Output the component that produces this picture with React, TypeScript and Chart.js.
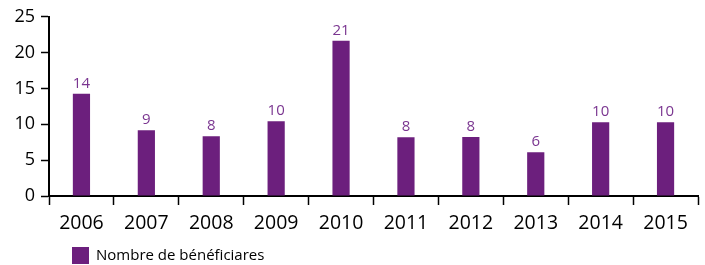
import { useEffect, useRef } from "react";
import { Chart, registerables } from "chart.js";

Chart.register(...registerables);

const categories = ["2006", "2007", "2008", "2009", "2010", "2011", "2012", "2013", "2014", "2015"];
const beneficiaries = [14.26, 9.17, 8.33, 10.42, 21.67, 8.19, 8.24, 6.11, 10.28, 10.28];
const valueLabels = ["14", "9", "8", "10", "21", "8", "8", "6", "10", "10"];
const seriesName = "Nombre de bénéficiares";

const BAR = "#6c1f7d";
const LABEL = "#7a3590";
const FONT = "'Open Sans'";

export default function App() {
  const ref = useRef<HTMLCanvasElement>(null);

  useEffect(() => {
    document.body.style.margin = "0";
    const canvas = ref.current;
    if (!canvas) return;

    const valueLabelPlugin = {
      id: "valueLabels",
      afterDatasetsDraw(chart: any) {
        const ctx = chart.ctx;
        const meta = chart.getDatasetMeta(0);
        ctx.save();
        ctx.font = `15px ${FONT}`;
        ctx.fillStyle = LABEL;
        ctx.textAlign = "center";
        ctx.textBaseline = "alphabetic";
        meta.data.forEach((bar: any, i: number) => {
          ctx.fillText(valueLabels[i], bar.x, bar.y - 6);
        });
        ctx.restore();
      },
    };

    const legendPlugin = {
      id: "customLegend",
      afterDraw(chart: any) {
        const ctx = chart.ctx;
        const x = chart.chartArea.left + 23;
        const y = chart.height - 18;
        ctx.save();
        ctx.fillStyle = BAR;
        ctx.fillRect(x, y, 17, 17);
        ctx.font = `15px ${FONT}`;
        ctx.fillStyle = "#000";
        ctx.textAlign = "left";
        ctx.textBaseline = "middle";
        ctx.fillText(seriesName, x + 24, y + 9);
        ctx.restore();
      },
    };

    const chart = new Chart(canvas, {
      type: "bar",
      data: {
        labels: categories,
        datasets: [
          {
            label: seriesName,
            data: beneficiaries,
            backgroundColor: BAR,
            borderWidth: 0,
            barPercentage: 0.265,
            categoryPercentage: 1,
          },
        ],
      },
      options: {
        responsive: false,
        animation: false,
        layout: { padding: { left: 0, right: 7, top: 16, bottom: 34 } },
        plugins: {
          legend: { display: false },
          tooltip: { enabled: false },
        },
        scales: {
          x: {
            grid: {
              display: true,
              drawOnChartArea: false,
              offset: true,
              tickLength: 9,
              tickColor: "#000",
              tickWidth: 1.5,
            },
            border: { color: "#000", width: 2 },
            ticks: {
              color: "#000",
              font: { family: FONT, size: 19.5 },
              padding: 7,
              maxRotation: 0,
            },
            afterFit: (s: any) => {
              s.height = 35;
            },
          },
          y: {
            min: 0,
            max: 25,
            grid: {
              display: true,
              drawOnChartArea: false,
              tickLength: 8,
              tickColor: "#000",
              tickWidth: 1.5,
            },
            border: { color: "#000", width: 2 },
            ticks: {
              stepSize: 5,
              color: "#000",
              font: { family: FONT, size: 18 },
              padding: 6,
            },
            afterFit: (s: any) => {
              s.width = 49;
            },
          },
        },
      },
      plugins: [valueLabelPlugin, legendPlugin],
    });

    return () => chart.destroy();
  }, []);

  return <canvas ref={ref} width={705} height={265} style={{ display: "block" }} />;
}
